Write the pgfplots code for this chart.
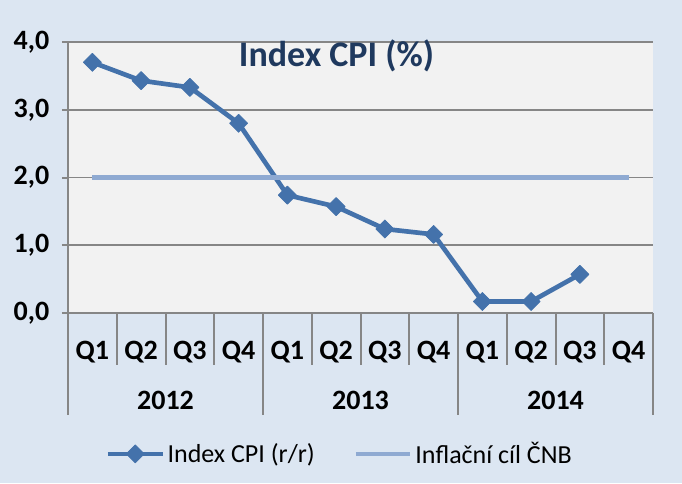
\documentclass[border=0pt]{standalone}
\usepackage{pgfplots}
\pgfplotsset{compat=1.18}
\usepackage{fontspec}
\setmainfont{Carlito}
\definecolor{bgcol}{RGB}{220,230,242}
\definecolor{plotbg}{RGB}{242,242,242}
\definecolor{gridcol}{RGB}{134,134,134}
\definecolor{cpicol}{RGB}{68,114,171}
\definecolor{targetcol}{RGB}{143,170,210}
\definecolor{titlecol}{RGB}{31,57,94}
\begin{document}
\begin{tikzpicture}
\useasboundingbox (0,0) rectangle (511.5pt,362.25pt);
\fill[bgcol] (0,0) rectangle (511.5pt,362.25pt);
\begin{axis}[
  at={(51pt,127.5pt)}, anchor=south west,
  width=438.75pt, height=203.25pt, scale only axis,
  xmin=0.5, xmax=12.5, ymin=0, ymax=4,
  ytick={0,1,2,3,4},
  xtick={1,...,12},
  xticklabels={Q1,Q2,Q3,Q4,Q1,Q2,Q3,Q4,Q1,Q2,Q3,Q4},
  axis x line*=bottom, axis y line*=left,
  axis line style={gridcol, line width=2pt, -},
  ymajorgrids, grid style={gridcol, line width=1.2pt},
  tick align=outside, major tick length=4.5pt,
  ytick style={gridcol, line width=1.5pt},
  xtick style={draw=none},
  /pgf/number format/assume math mode=true,
  yticklabel style={font=\fontsize{21}{25}\selectfont\bfseries, xshift=-6pt,
    /pgf/number format/.cd, fixed, fixed zerofill, precision=1, use comma},
  xticklabel style={font=\fontsize{21}{25}\selectfont\bfseries, anchor=center, yshift=-25pt},
  axis background/.style={fill=plotbg},
  clip=false,
  legend style={at={(0.465,-0.52)}, anchor=center, draw=none, fill=none,
    legend columns=2, font=\fontsize{19.5}{23}\selectfont,
    /tikz/every even column/.append style={column sep=27pt}},
  legend cell align=left,
  legend image code/.code={\draw[mark repeat=2,mark phase=2,#1] plot coordinates {(0pt,0pt) (20.5pt,0pt) (41pt,0pt)};},
]
\addplot[cpicol, line width=3.5pt, line join=round, mark=square*, mark size=4.8pt,
  mark options={rotate=45, line width=0.5pt, fill=cpicol, solid}]
  coordinates {(1,3.70) (2,3.43) (3,3.33) (4,2.80) (5,1.74) (6,1.57) (7,1.24) (8,1.16) (9,0.17) (10,0.17) (11,0.57)};
\addlegendentry{Index CPI (r/r)}
\addplot[targetcol, line width=3.5pt] coordinates {(1,2) (12,2)};
\addlegendentry{Inflační cíl ČNB}

\node[font=\fontsize{27}{32}\selectfont\bfseries, text=titlecol, anchor=base] at (axis description cs:0.459,0.909) {Index CPI (\%)};

\draw[gridcol, line width=1.5pt] (axis cs:1.5,0) -- ++(0pt,-39pt);
\draw[gridcol, line width=1.5pt] (axis cs:2.5,0) -- ++(0pt,-39pt);
\draw[gridcol, line width=1.5pt] (axis cs:3.5,0) -- ++(0pt,-39pt);
\draw[gridcol, line width=1.5pt] (axis cs:5.5,0) -- ++(0pt,-39pt);
\draw[gridcol, line width=1.5pt] (axis cs:6.5,0) -- ++(0pt,-39pt);
\draw[gridcol, line width=1.5pt] (axis cs:7.5,0) -- ++(0pt,-39pt);
\draw[gridcol, line width=1.5pt] (axis cs:9.5,0) -- ++(0pt,-39pt);
\draw[gridcol, line width=1.5pt] (axis cs:10.5,0) -- ++(0pt,-39pt);
\draw[gridcol, line width=1.5pt] (axis cs:11.5,0) -- ++(0pt,-39pt);
\draw[gridcol, line width=1.5pt] (axis cs:0.5,0) -- ++(0pt,-76.5pt);
\draw[gridcol, line width=1.5pt] (axis cs:4.5,0) -- ++(0pt,-76.5pt);
\draw[gridcol, line width=1.5pt] (axis cs:8.5,0) -- ++(0pt,-76.5pt);
\draw[gridcol, line width=1.5pt] (axis cs:12.5,0) -- ++(0pt,-76.5pt);

\node[font=\fontsize{21}{25}\selectfont\bfseries] at ([yshift=-65.25pt]axis cs:2.5,0) {2012};
\node[font=\fontsize{21}{25}\selectfont\bfseries] at ([yshift=-65.25pt]axis cs:6.5,0) {2013};
\node[font=\fontsize{21}{25}\selectfont\bfseries] at ([yshift=-65.25pt]axis cs:10.5,0) {2014};
\end{axis}
\end{tikzpicture}
\end{document}
